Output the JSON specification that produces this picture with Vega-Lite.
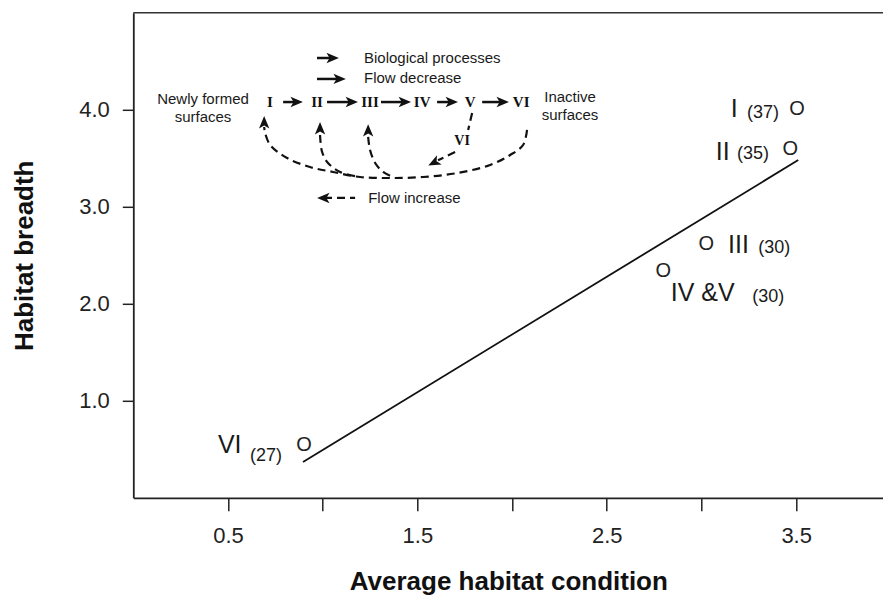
{
  "$schema": "https://vega.github.io/schema/vega-lite/v6.json",
  "width": 750,
  "height": 485,
  "autosize": "none",
  "padding": {"left": 133.3, "top": 12.8, "right": 0, "bottom": 98.2},
  "background": "white",
  "config": {"view": {"stroke": null}, "font": "Liberation Sans"},
  "datasets": {
    "points": [
      {"stage": "I", "x": 3.504, "y": 4.008},
      {"stage": "II", "x": 3.469, "y": 3.596},
      {"stage": "III", "x": 3.025, "y": 2.616},
      {"stage": "IV & V", "x": 2.798, "y": 2.338},
      {"stage": "VI", "x": 0.902, "y": 0.544}
    ],
    "numlabels": [
      {"t": "I", "x": 3.155, "y": 3.926},
      {"t": "II", "x": 3.076, "y": 3.482},
      {"t": "III", "x": 3.14, "y": 2.524},
      {"t": "IV &V", "x": 2.838, "y": 2.029},
      {"t": "VI", "x": 0.447, "y": 0.462}
    ],
    "nlabels": [
      {"t": "(37)", "x": 3.241, "y": 3.915},
      {"t": "(35)", "x": 3.188, "y": 3.493},
      {"t": "(30)", "x": 3.3, "y": 2.524},
      {"t": "(30)", "x": 3.268, "y": 2.019},
      {"t": "(27)", "x": 0.616, "y": 0.379}
    ],
    "fit": [
      {"x": 0.896, "y": 0.369},
      {"x": 3.511, "y": 3.482}
    ],
    "legendText": [
      {"t": "Biological processes", "x": 1.218, "y": 4.482},
      {"t": "Flow decrease", "x": 1.218, "y": 4.276},
      {"t": "Flow increase", "x": 1.24, "y": 3.039}
    ],
    "sideText": [
      {"t": "Newly formed", "x": 0.368, "y": 4.06},
      {"t": "surfaces", "x": 0.368, "y": 3.874},
      {"t": "Inactive", "x": 2.306, "y": 4.08},
      {"t": "surfaces", "x": 2.306, "y": 3.895}
    ],
    "stages": [
      {"t": "I", "x": 0.722, "y": 4.029},
      {"t": "II", "x": 0.97, "y": 4.029},
      {"t": "III", "x": 1.25, "y": 4.029},
      {"t": "IV", "x": 1.525, "y": 4.029},
      {"t": "V", "x": 1.779, "y": 4.029},
      {"t": "VI", "x": 2.048, "y": 4.029}
    ],
    "solid": [
      {"seg": "a1", "x": 0.791, "y": 4.08}, {"seg": "a1", "x": 0.859, "y": 4.08},
      {"seg": "a2", "x": 1.023, "y": 4.08}, {"seg": "a2", "x": 1.15, "y": 4.08},
      {"seg": "a3", "x": 1.308, "y": 4.08}, {"seg": "a3", "x": 1.43, "y": 4.08},
      {"seg": "a4", "x": 1.604, "y": 4.08}, {"seg": "a4", "x": 1.678, "y": 4.08},
      {"seg": "a5", "x": 1.842, "y": 4.08}, {"seg": "a5", "x": 1.947, "y": 4.08},
      {"seg": "l1", "x": 0.97, "y": 4.534}, {"seg": "l1", "x": 1.049, "y": 4.534},
      {"seg": "l2", "x": 0.97, "y": 4.318}, {"seg": "l2", "x": 1.086, "y": 4.318}
    ],
    "dashed": [
      {"seg": "c1", "i": 1, "x": 2.079, "y": 3.792},
      {"seg": "c1", "i": 2, "x": 2.058, "y": 3.637},
      {"seg": "c1", "i": 3, "x": 1.99, "y": 3.534},
      {"seg": "c1", "i": 4, "x": 1.884, "y": 3.431},
      {"seg": "c1", "i": 5, "x": 1.71, "y": 3.348},
      {"seg": "c1", "i": 6, "x": 1.53, "y": 3.307},
      {"seg": "c1", "i": 7, "x": 1.356, "y": 3.297},
      {"seg": "c1", "i": 8, "x": 1.197, "y": 3.307},
      {"seg": "c1", "i": 9, "x": 1.055, "y": 3.359},
      {"seg": "c1", "i": 10, "x": 0.933, "y": 3.41},
      {"seg": "c1", "i": 11, "x": 0.812, "y": 3.503},
      {"seg": "c1", "i": 12, "x": 0.723, "y": 3.637},
      {"seg": "c1", "i": 13, "x": 0.696, "y": 3.761},
      {"seg": "c1", "i": 14, "x": 0.691, "y": 3.823},
      {"seg": "c2", "i": 1, "x": 0.986, "y": 3.74},
      {"seg": "c2", "i": 2, "x": 0.997, "y": 3.565},
      {"seg": "c2", "i": 3, "x": 1.028, "y": 3.452},
      {"seg": "c2", "i": 4, "x": 1.092, "y": 3.359},
      {"seg": "c2", "i": 5, "x": 1.197, "y": 3.307},
      {"seg": "c3", "i": 1, "x": 1.24, "y": 3.72},
      {"seg": "c3", "i": 2, "x": 1.25, "y": 3.586},
      {"seg": "c3", "i": 3, "x": 1.277, "y": 3.452},
      {"seg": "c3", "i": 4, "x": 1.319, "y": 3.359},
      {"seg": "c3", "i": 5, "x": 1.372, "y": 3.307},
      {"seg": "c4", "i": 1, "x": 1.789, "y": 3.967},
      {"seg": "c4", "i": 2, "x": 1.768, "y": 3.792},
      {"seg": "c5", "i": 1, "x": 1.699, "y": 3.565},
      {"seg": "c5", "i": 2, "x": 1.609, "y": 3.48},
      {"seg": "l3", "i": 1, "x": 1.007, "y": 3.091},
      {"seg": "l3", "i": 2, "x": 1.171, "y": 3.091}
    ],
    "heads": [
      {"x": 0.859, "y": 4.08, "a": 90},
      {"x": 1.15, "y": 4.08, "a": 90},
      {"x": 1.43, "y": 4.08, "a": 90},
      {"x": 1.678, "y": 4.08, "a": 90},
      {"x": 1.947, "y": 4.08, "a": 90},
      {"x": 1.049, "y": 4.534, "a": 90},
      {"x": 1.086, "y": 4.318, "a": 90},
      {"x": 1.007, "y": 3.091, "a": 270},
      {"x": 0.691, "y": 3.864, "a": 0},
      {"x": 0.986, "y": 3.802, "a": 0},
      {"x": 1.24, "y": 3.781, "a": 0},
      {"x": 1.59, "y": 3.459, "a": 243}
    ]
  },
  "encoding": {
    "x": {
      "field": "x",
      "type": "quantitative",
      "scale": {"domain": [0, 3.96], "nice": false, "zero": false},
      "axis": {
        "title": "Average habitat condition",
        "titleFont": "Liberation Sans",
        "titleFontSize": 26,
        "titleFontWeight": "bold",
        "titleColor": "#111",
        "titleY": 92,
        "titleBaseline": "alphabetic",
        "values": [0.5, 1, 1.5, 2, 2.5, 3, 3.5],
        "labelExpr": "(datum.value*2)%2==1 ? format(datum.value,'.1f') : ''",
        "labelFont": "Liberation Sans",
        "labelFontSize": 22,
        "labelColor": "#222",
        "labelPadding": 15,
        "labelFlush": false,
        "tickSize": 13,
        "tickWidth": 1.5,
        "tickColor": "#222",
        "domainColor": "#222",
        "domainWidth": 1.8,
        "grid": false
      }
    },
    "y": {
      "field": "y",
      "type": "quantitative",
      "scale": {"domain": [0, 5], "nice": false, "zero": false},
      "axis": {
        "title": "Habitat breadth",
        "titleFont": "Liberation Sans",
        "titleFontSize": 26,
        "titleFontWeight": "bold",
        "titleColor": "#111",
        "titleX": -100.3,
        "titleBaseline": "alphabetic",
        "values": [1, 2, 3, 4],
        "format": ".1f",
        "labelFont": "Liberation Sans",
        "labelFontSize": 22,
        "labelColor": "#222",
        "labelPadding": 13,
        "labelFlush": false,
        "tickSize": 11,
        "tickWidth": 1.5,
        "tickColor": "#222",
        "domainColor": "#222",
        "domainWidth": 1.8,
        "grid": false
      }
    }
  },
  "layer": [
    {
      "data": {"values": [{"x": 0, "x2": 3.96, "y": 5}]},
      "mark": {"type": "rule", "color": "#333", "strokeWidth": 1.6},
      "encoding": {"x2": {"field": "x2"}}
    },
    {
      "data": {"name": "fit"},
      "mark": {"type": "line", "color": "#111", "strokeWidth": 1.8}
    },
    {
      "data": {"name": "points"},
      "mark": {"type": "text", "text": "O", "font": "Liberation Sans", "fontSize": 20, "align": "center", "baseline": "middle", "color": "#222"}
    },
    {
      "data": {"name": "numlabels"},
      "mark": {"type": "text", "font": "Liberation Sans", "fontSize": 25, "align": "left", "baseline": "alphabetic", "color": "#1a1a1a"},
      "encoding": {"text": {"field": "t"}}
    },
    {
      "data": {"name": "nlabels"},
      "mark": {"type": "text", "font": "Liberation Sans", "fontSize": 18, "align": "left", "baseline": "alphabetic", "color": "#1a1a1a"},
      "encoding": {"text": {"field": "t"}}
    },
    {
      "data": {"name": "legendText"},
      "mark": {"type": "text", "font": "Liberation Sans", "fontSize": 15, "align": "left", "baseline": "alphabetic", "color": "#1a1a1a"},
      "encoding": {"text": {"field": "t"}}
    },
    {
      "data": {"name": "sideText"},
      "mark": {"type": "text", "font": "Liberation Sans", "fontSize": 15, "align": "center", "baseline": "alphabetic", "color": "#1a1a1a"},
      "encoding": {"text": {"field": "t"}}
    },
    {
      "data": {"name": "stages"},
      "mark": {"type": "text", "font": "Liberation Serif", "fontSize": 15, "fontWeight": "bold", "align": "center", "baseline": "alphabetic", "color": "#111"},
      "encoding": {"text": {"field": "t"}}
    },
    {
      "data": {"values": [{"t": "VI", "x": 1.736, "y": 3.637}]},
      "mark": {"type": "text", "font": "Liberation Serif", "fontSize": 14, "fontWeight": "bold", "align": "center", "baseline": "alphabetic", "color": "#111"},
      "encoding": {"text": {"field": "t"}}
    },
    {
      "data": {"name": "solid"},
      "mark": {"type": "line", "color": "#111", "strokeWidth": 2.5},
      "encoding": {"detail": {"field": "seg"}}
    },
    {
      "data": {"name": "dashed"},
      "mark": {"type": "line", "color": "#111", "strokeWidth": 2.2, "strokeDash": [8, 5], "interpolate": "catmull-rom"},
      "encoding": {"detail": {"field": "seg"}, "order": {"field": "i", "type": "quantitative"}}
    },
    {
      "data": {"name": "heads"},
      "mark": {"type": "point", "shape": "M0,-1L0.75,0.8L0,0.35L-0.75,0.8Z", "filled": true, "size": 190, "color": "#111", "opacity": 1, "strokeWidth": 0},
      "encoding": {"angle": {"field": "a", "type": "quantitative", "scale": null}}
    }
  ]
}
